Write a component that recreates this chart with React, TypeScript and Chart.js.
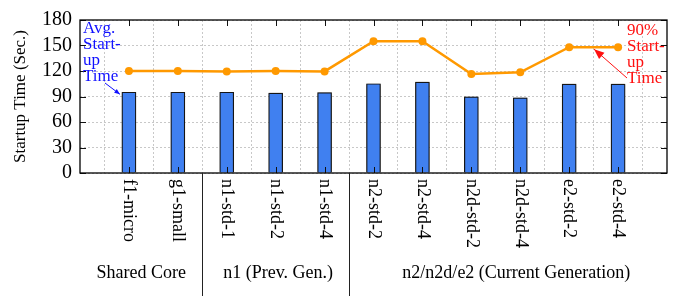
import React, { useEffect, useRef } from "react";
import { Chart, registerables } from "chart.js";

Chart.register(...registerables);

const categories = [
  "f1-micro", "g1-small", "n1-std-1", "n1-std-2", "n1-std-4",
  "n2-std-2", "n2-std-4", "n2d-std-2", "n2d-std-4", "e2-std-2", "e2-std-4",
];
const avgStartup = [95, 95, 95, 94, 94.5, 105, 107, 89.5, 88.5, 104.5, 104.5];
const p90Startup = [120, 120, 119.5, 120, 119.5, 155, 155, 116.5, 118.5, 148, 148];
const yTicks = [0, 30, 60, 90, 120, 150, 180];
const groups = [
  { label: "Shared Core", center: 1.25 },
  { label: "n1 (Prev. Gen.)", center: 4.05 },
  { label: "n2/n2d/e2 (Current Generation)", center: 8.92 },
];
const groupBreaks = [2.5, 5.5];
const avgNote = ["Avg.", "Start-", "up", "Time"];
const p90Note = ["90%", "Start-", "up", "Time"];

const SERIF = "'Liberation Serif', 'Times New Roman', serif";

function arrow(ctx: CanvasRenderingContext2D, x1: number, y1: number, x2: number, y2: number, color: string, head: number, filled: boolean) {
  ctx.save();
  ctx.strokeStyle = color;
  ctx.fillStyle = color;
  ctx.lineWidth = 1;
  ctx.beginPath();
  ctx.moveTo(x1, y1);
  ctx.lineTo(x2, y2);
  ctx.stroke();
  const a = Math.atan2(y2 - y1, x2 - x1);
  const s = 0.38;
  ctx.beginPath();
  ctx.moveTo(x2, y2);
  ctx.lineTo(x2 - head * Math.cos(a - s), y2 - head * Math.sin(a - s));
  ctx.lineTo(x2 - head * Math.cos(a + s), y2 - head * Math.sin(a + s));
  ctx.closePath();
  if (filled) ctx.fill(); else ctx.stroke();
  ctx.restore();
}

const decorPlugin = {
  id: "decor",
  beforeDatasetDraw(chart: any, args: any) {
    if (args.meta.type === "bar") {
      const ctx = chart.ctx;
      ctx.save();
      ctx.shadowColor = "rgba(0,0,0,0.45)";
      ctx.shadowBlur = 2.5;
    }
  },
  afterDatasetDraw(chart: any, args: any) {
    if (args.meta.type === "bar") chart.ctx.restore();
  },
  afterDraw(chart: any) {
    const ctx: CanvasRenderingContext2D = chart.ctx;
    const { left, right, top, bottom } = chart.chartArea;
    const xs = chart.scales.x;
    const ys = chart.scales.y;
    ctx.save();
    // ticks on all sides
    ctx.strokeStyle = "#111";
    ctx.lineWidth = 1;
    ctx.beginPath();
    yTicks.forEach((v) => {
      const y = Math.round(ys.getPixelForValue(v)) + 0.5;
      ctx.moveTo(left, y); ctx.lineTo(left + 6, y);
      ctx.moveTo(right, y); ctx.lineTo(right - 6, y);
    });
    categories.forEach((_, i) => {
      const x = Math.round(xs.getPixelForValue(i + 1)) + 0.5;
      ctx.moveTo(x, top); ctx.lineTo(x, top + 6);
      ctx.moveTo(x, bottom); ctx.lineTo(x, bottom - 6);
    });
    ctx.stroke();
    // frame
    ctx.lineWidth = 1.3;
    ctx.strokeStyle = "#000";
    ctx.strokeRect(left, top, right - left, bottom - top);
    // group separators
    ctx.lineWidth = 1;
    ctx.strokeStyle = "#222";
    ctx.beginPath();
    groupBreaks.forEach((g) => {
      const x = Math.round(xs.getPixelForValue(g)) + 0.5;
      ctx.moveTo(x, bottom);
      ctx.lineTo(x, chart.height);
    });
    ctx.stroke();
    // rotated category labels
    ctx.fillStyle = "#000";
    ctx.font = `18px ${SERIF}`;
    ctx.textAlign = "left";
    ctx.textBaseline = "middle";
    categories.forEach((c, i) => {
      const x = xs.getPixelForValue(i + 1);
      ctx.save();
      ctx.translate(x, bottom + 6);
      ctx.rotate(Math.PI / 2);
      ctx.fillText(c, 0, 0);
      ctx.restore();
    });
    // group labels
    ctx.textAlign = "center";
    groups.forEach((g) => {
      ctx.fillText(g.label, xs.getPixelForValue(g.center), bottom + 100);
    });
    // annotations
    ctx.font = `17px ${SERIF}`;
    ctx.textAlign = "left";
    ctx.fillStyle = "#1010ff";
    avgNote.forEach((t, i) => ctx.fillText(t, left + 3, top + 9 + i * 16));
    ctx.fillStyle = "#ff1010";
    p90Note.forEach((t, i) => ctx.fillText(t, right - 40, top + 11 + i * 16));
    const bx = xs.getPixelForValue(1);
    const by = ys.getPixelForValue(avgStartup[0]);
    arrow(ctx, left + 25, top + 63, bx - 9, by + 2, "#1010ff", 6, true);
    const rx = xs.getPixelForValue(11);
    const ry = ys.getPixelForValue(p90Startup[10]);
    arrow(ctx, right - 40, top + 58, rx - 24, ry + 2, "#ff1010", 11, true);
    ctx.restore();
  },
};

export default function App() {
  const ref = useRef<HTMLCanvasElement>(null);
  useEffect(() => {
    document.body.style.margin = "0";
    const labels = ["", ...categories, ""];
    const chart = new Chart(ref.current!, {
      type: "bar",
      data: {
        labels,
        datasets: [
          {
            type: "line",
            label: "90% Startup Time",
            data: [null, ...p90Startup, null],
            borderColor: "#ff9900",
            backgroundColor: "#ff9900",
            borderWidth: 2.5,
            pointRadius: 4,
            pointBackgroundColor: "#ff9900",
            pointBorderWidth: 0,
            order: 0,
          } as any,
          {
            type: "bar",
            label: "Avg. Startup Time",
            data: [null, ...avgStartup, null],
            backgroundColor: "#4080f0",
            borderColor: "#1a1a1a",
            borderWidth: 1.2,
            barThickness: 14,
            order: 1,
          },
        ],
      },
      options: {
        animation: false,
        responsive: false,
        maintainAspectRatio: false,
        layout: { padding: { left: 0, right: 11, top: 12, bottom: 0 } },
        plugins: { legend: { display: false }, tooltip: { enabled: false } },
        scales: {
          x: {
            type: "category",
            offset: false,
            grid: { color: "#c8c8c8", lineWidth: 1, drawTicks: false },
            border: { display: false, dash: [2, 2] },
            ticks: { display: false },
            afterFit: (s: any) => { s.height = 123; },
          },
          y: {
            min: 0,
            max: 180,
            grid: { color: "#c8c8c8", lineWidth: 1, drawTicks: false },
            border: { display: false, dash: [2, 2] },
            ticks: {
              stepSize: 30,
              autoSkip: false,
              padding: 8,
              color: "#000",
              font: { family: SERIF, size: 20 },
            },
            title: {
              display: true,
              text: "Startup Time (Sec.)",
              color: "#000",
              font: { family: SERIF, size: 17 },
              padding: { top: 10, bottom: 0 },
            },
            afterFit: (s: any) => { s.width = 80; },
          },
        },
      },
      plugins: [decorPlugin],
    });
    return () => chart.destroy();
  }, []);
  return <canvas ref={ref} width={678} height={296} style={{ display: "block" }} />;
}
